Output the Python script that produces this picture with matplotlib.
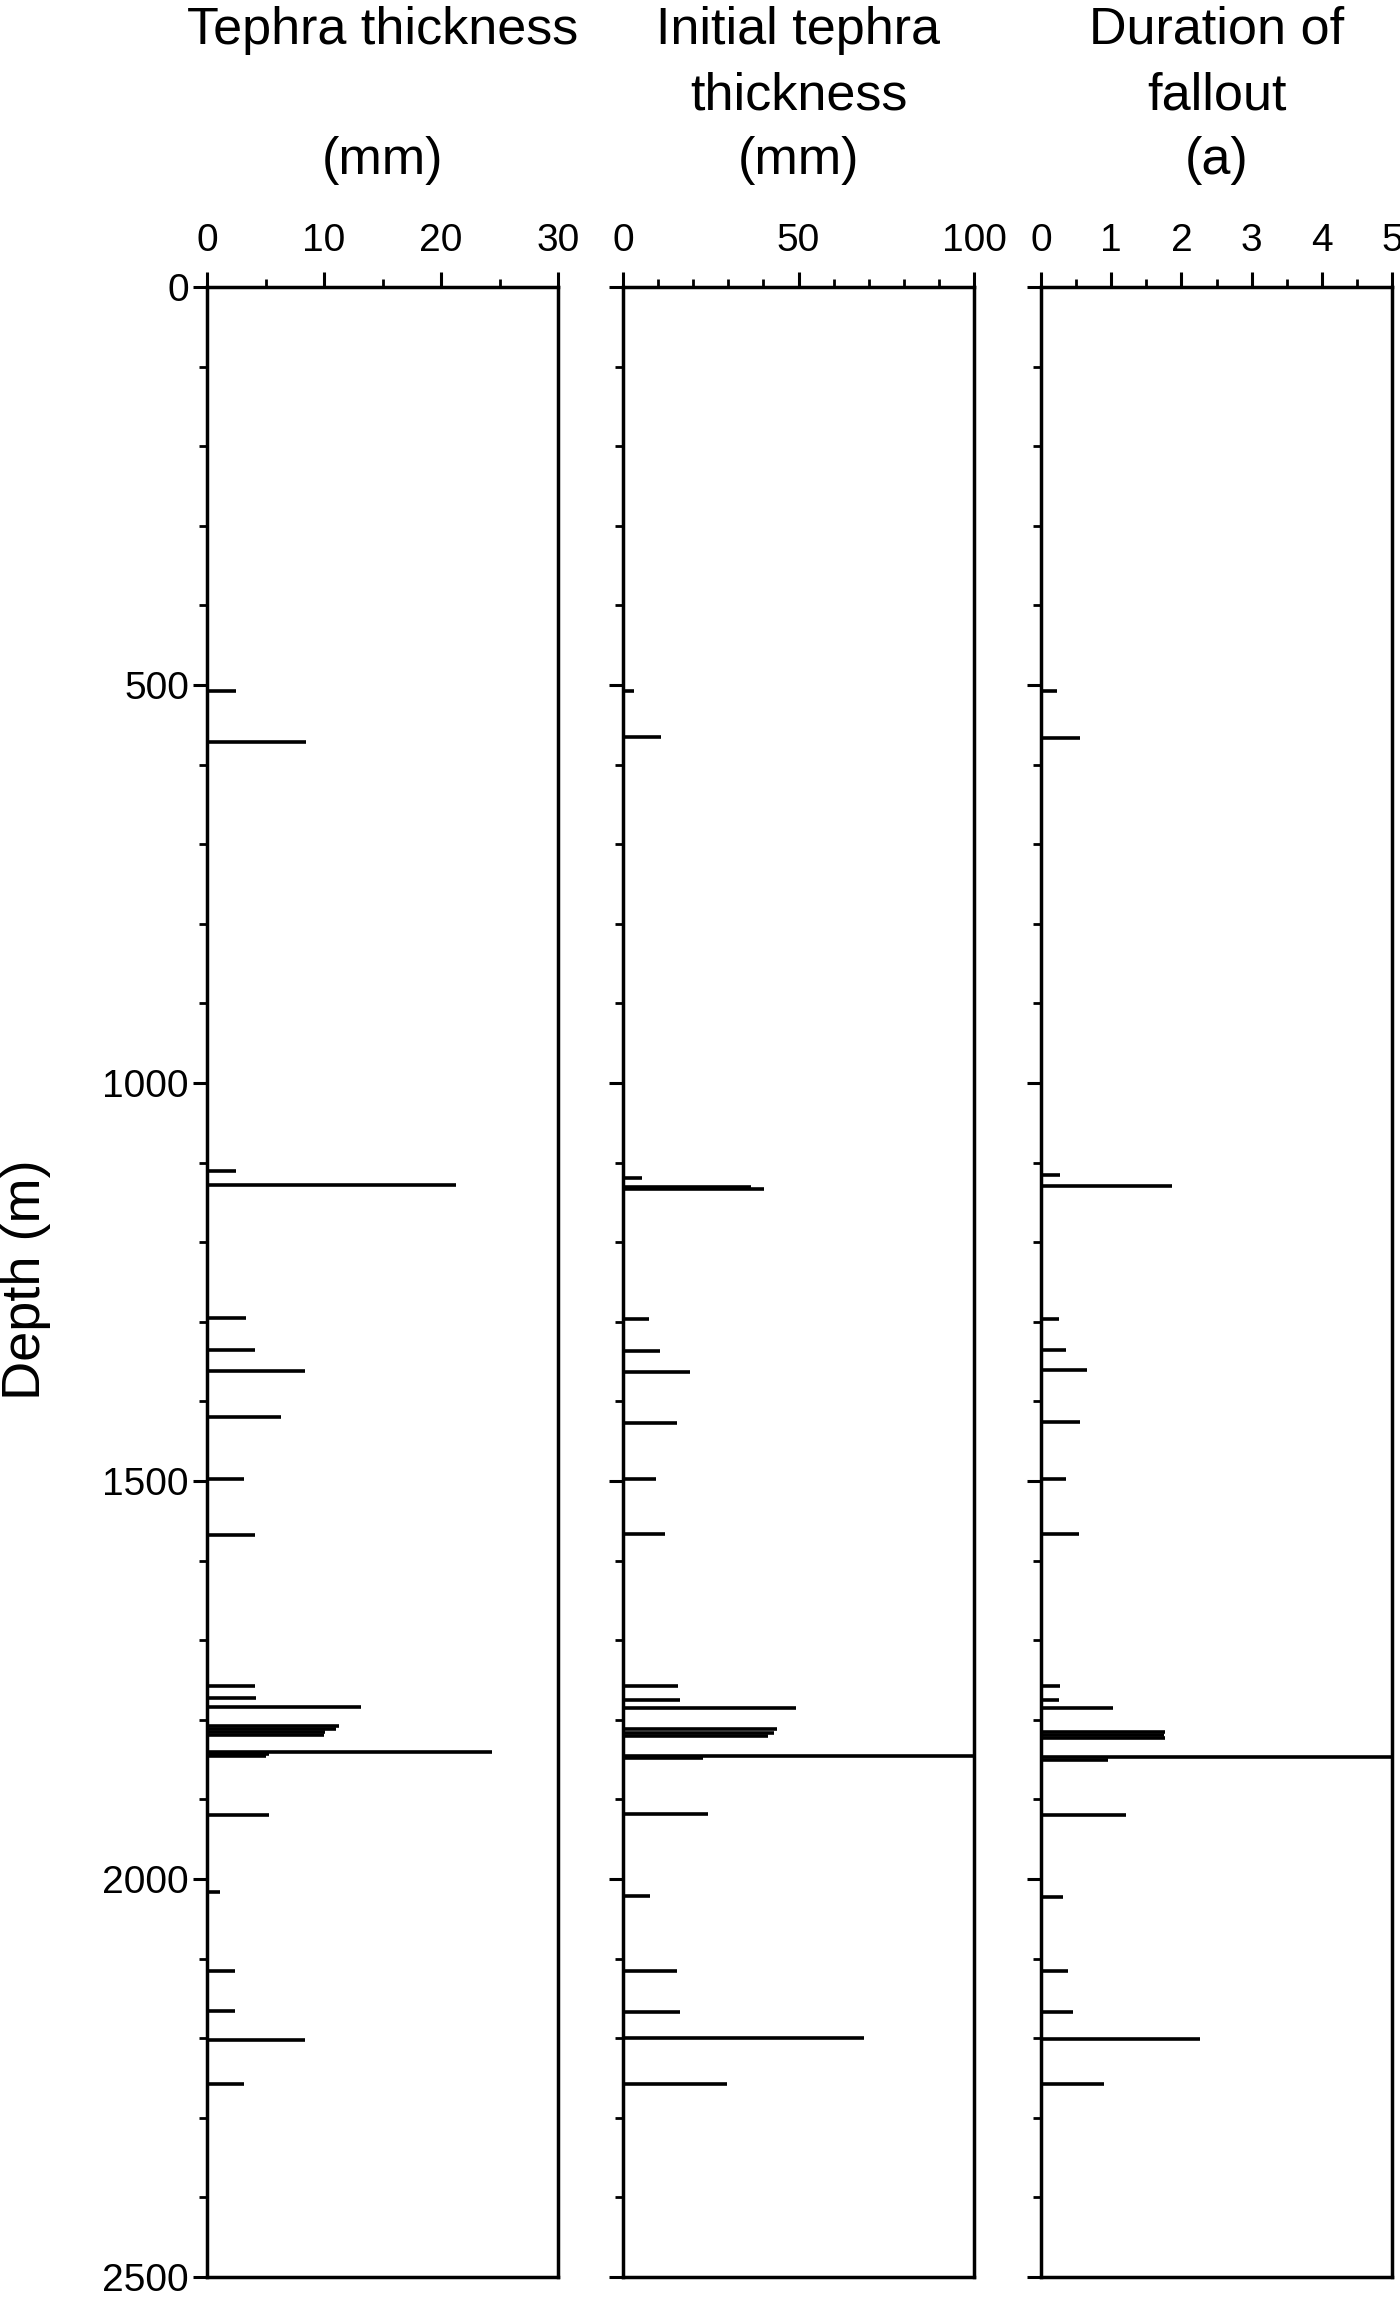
import matplotlib
matplotlib.use("Agg")
import matplotlib.pyplot as plt
from matplotlib import font_manager
from matplotlib.ticker import MultipleLocator

# depth (m) of each tephra layer and the value
depth_tephra = [507, 572, 1110, 1128, 1295, 1335, 1362, 1420, 1497, 1568,
                1758, 1772, 1784, 1808, 1811, 1815, 1819, 1840, 1843, 1846,
                1919, 2016, 2116, 2166, 2202, 2258]
tephra_mm = [2.5, 8.5, 2.5, 21.3, 3.3, 4.1, 8.4, 6.3, 3.2, 4.1,
             4.1, 4.2, 13.2, 11.3, 11.0, 10.1, 10.0, 24.4, 5.3, 5.0,
             5.3, 1.1, 2.4, 2.4, 8.4, 3.2]

depth_initial = [507, 565, 1119, 1131, 1133, 1297, 1337, 1363, 1427, 1498,
                 1567, 1758, 1775, 1785, 1812, 1816, 1820, 1845, 1848, 1918,
                 2021, 2116, 2167, 2200, 2257]
initial_mm = [3.0, 10.8, 5.4, 36.4, 40.3, 7.5, 10.6, 19.1, 15.4, 9.5,
              12.0, 15.7, 16.1, 49.4, 43.9, 43.0, 41.3, 110.0, 22.8, 24.2,
              7.6, 15.4, 16.1, 68.7, 29.7]

depth_duration = [507, 567, 1115, 1129, 1296, 1335, 1360, 1426, 1498, 1567,
                  1757, 1775, 1785, 1815, 1819, 1823, 1847, 1850, 1919, 2022,
                  2116, 2167, 2201, 2257]
duration_a = [0.23, 0.56, 0.27, 1.86, 0.25, 0.36, 0.65, 0.55, 0.36, 0.54,
              0.27, 0.26, 1.02, 1.77, 1.75, 1.77, 6.0, 0.95, 1.21, 0.31,
              0.38, 0.45, 2.27, 0.9]

titles = [["Tephra thickness", "", "(mm)"],
          ["Initial tephra", "thickness", "(mm)"],
          ["Duration of", "fallout", "(a)"]]

names = {f.name for f in font_manager.fontManager.ttflist}
tick_font = "Liberation Sans Narrow" if "Liberation Sans Narrow" in names else "Liberation Sans"
tick_size = 32 if tick_font == "Liberation Sans Narrow" else 28
plt.rcParams["font.family"] = ["Liberation Sans", "DejaVu Sans"]

W, H = 1400, 2297
fig = plt.figure(figsize=(W / 100, H / 100), dpi=100)

top, bottom = 287, 2277
lefts = [207, 623, 1041]
width = 351

panels = [(depth_tephra, tephra_mm, 30, 10, 5),
          (depth_initial, initial_mm, 100, 50, 10),
          (depth_duration, duration_a, 5, 1, 0.5)]

for i, (depth, vals, xmax, xmaj, xmin) in enumerate(panels):
    ax = fig.add_axes([lefts[i] / W, 1 - bottom / H, width / W, (bottom - top) / H])
    ax.hlines(depth, 0, vals, color="black", lw=2.6)
    ax.set_xlim(0, xmax)
    ax.set_ylim(2500, 0)

    for s in ax.spines.values():
        s.set_linewidth(2.5)

    ax.xaxis.tick_top()
    ax.xaxis.set_major_locator(MultipleLocator(xmaj))
    ax.xaxis.set_minor_locator(MultipleLocator(xmin))
    ax.yaxis.set_major_locator(MultipleLocator(500))
    ax.yaxis.set_minor_locator(MultipleLocator(100))
    ax.tick_params(axis="x", which="major", length=11, width=2.2, pad=9)
    ax.tick_params(axis="x", which="minor", length=6, width=2)
    ax.tick_params(axis="y", which="major", length=10, width=2.2, pad=3,
                   labelleft=(i == 0))
    ax.tick_params(axis="y", which="minor", length=6, width=2)
    for lab in ax.get_xticklabels() + ax.get_yticklabels():
        lab.set_fontfamily(tick_font)
        lab.set_fontsize(tick_size)

    cx = (lefts[i] + width / 2) / W
    for j, line in enumerate(titles[i]):
        fig.text(cx, 1 - (44 + 65 * j) / H, line, ha="center", va="baseline",
                 fontsize=37.5)

fig.text(26 / W, 1 - 1280 / H, "Depth (m)", rotation=90, ha="center",
         va="center", fontsize=39)

fig.savefig("out.png", dpi=100)
